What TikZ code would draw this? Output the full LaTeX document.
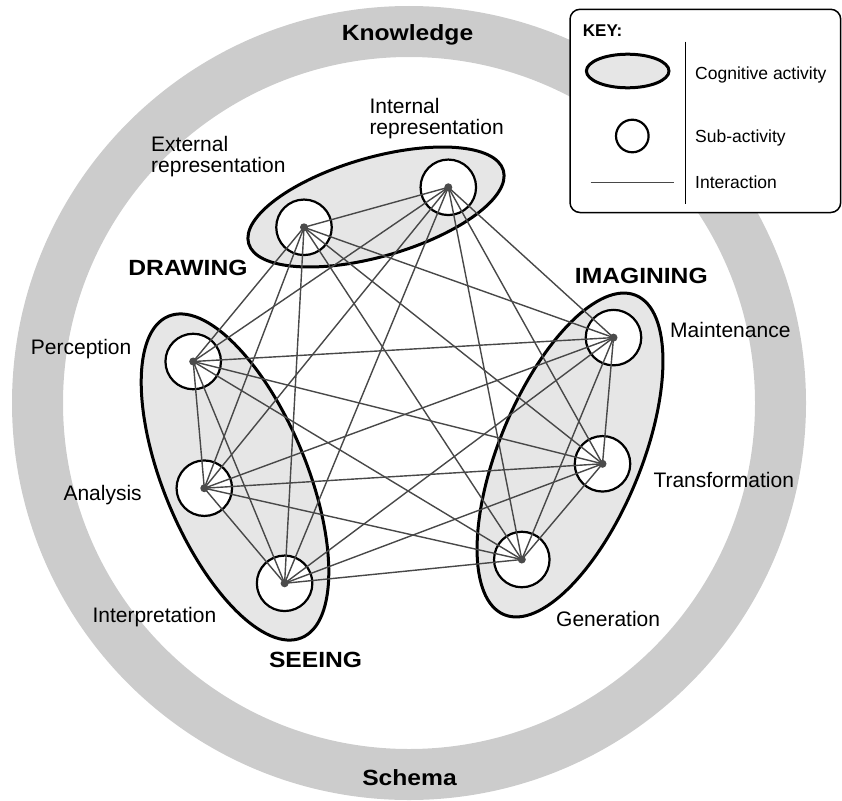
\documentclass[tikz,border=0pt]{standalone}
\usepackage{fontspec}
\setmainfont{Liberation Sans}
\newfontfamily\titlefont[FakeStretch=1.12]{Liberation Sans}
\usepackage{xcolor}
\definecolor{ringgray}{RGB}{204,204,204}
\definecolor{actgray}{RGB}{230,230,230}
\definecolor{linegray}{RGB}{72,72,72}
\definecolor{dotgray}{RGB}{75,75,75}

\begin{document}
\begin{tikzpicture}[x=1pt,y=1pt,yscale=-1,
    subact/.style={circle,draw,fill=white,line width=2.2pt,minimum size=55.5pt,inner sep=0pt},
    activity/.style={draw,fill=actgray,line width=3pt},
    interact/.style={draw=linegray,line width=1.4pt},
    lbl/.style={anchor=base west,inner sep=0pt,font=\fontsize{21}{21.5}\selectfont},
    lbltwo/.style={anchor=north west,inner sep=0pt,align=left,font=\fontsize{21}{21.5}\selectfont},
    ttl/.style={anchor=base,inner sep=0pt,font=\titlefont\bfseries\fontsize{22}{24}\selectfont},
    keytxt/.style={anchor=base west,inner sep=0pt,font=\fontsize{17.5}{20}\selectfont}]
            \useasboundingbox (0,0) rectangle (842,800);
            
            %Ring: knowledge / schema
            \fill[ringgray,even odd rule] (409,403) circle (397) (409,403) circle (346);
            \node[ttl] (know) at (407.5,40.7) {Knowledge};
            \node[ttl] (schema) at (409.5,785) {Schema};
            
            %Cognitive activities
            \draw[activity,rotate around={-16:(376,207)}] (376,207) ellipse (132.5 and 49.5);
            \draw[activity,rotate around={67.5:(235,477)}] (235,477) ellipse (174 and 71.5);
            \draw[activity,rotate around={-67.6:(570,455)}] (570,455) ellipse (172.7 and 71);
            
            %Sub-activities
            \node[subact] (ext) at (304,227.3) {};
            \node[subact] (int) at (448.3,187.3) {};
            \node[subact] (per) at (193.2,361.5) {};
            \node[subact] (ana) at (204.3,488.2) {};
            \node[subact] (itp) at (284.6,583.3) {};
            \node[subact] (mai) at (613.5,337.6) {};
            \node[subact] (tra) at (602.5,463.8) {};
            \node[subact] (gen) at (521.8,559.5) {};
            
            %Interactions
            \foreach \a [count=\i] in {ext,int,per,ana,itp,mai,tra,gen}
              \foreach \b [count=\j] in {ext,int,per,ana,itp,mai,tra,gen}
                {\ifnum\j>\i \draw[interact] (\a.center) -- (\b.center); \fi}
            \foreach \n in {ext,int,per,ana,itp,mai,tra,gen}
              \fill[dotgray] (\n.center) circle (4);
            
            % Text Node
            \node[lbltwo] (lext) at (151,135.6) {External\\representation};
            \node[lbltwo] (lint) at (369.3,97.6) {Internal\\representation};
            \node[lbl] (lper) at (30.7,354) {Perception};
            \node[lbl] (lana) at (63.3,500) {Analysis};
            \node[lbl] (litp) at (92.3,622.7) {Interpretation};
            \node[lbl] (lmai) at (670,337.3) {Maintenance};
            \node[lbl] (ltra) at (653.3,487.3) {Transformation};
            \node[lbl] (lgen) at (556,626.7) {Generation};
            \node[ttl] (draw) at (188,275) {DRAWING};
            \node[ttl] (imag) at (641.3,283.3) {IMAGINING};
            \node[ttl] (see) at (315.6,667.3) {SEEING};
            
            %Key
            \draw[fill=white,line width=1.5pt,rounded corners=10pt] (570,9.3) rectangle (840.7,212.5);
            \draw[line width=1pt] (685,41.7) -- (685,204);
            \node[anchor=base west,inner sep=0pt,font=\bfseries\fontsize{17}{20}\selectfont] (keyttl) at (582.7,36.7) {KEY:};
            \draw[activity] (627.7,71) ellipse (41.3 and 16.8);
            \node[subact,minimum size=32.6pt] (keysub) at (632.3,136) {};
            \coordinate (keyl) at (590.7,182.3);
            \coordinate (keyr) at (674,182.3);
            \draw[interact] (keyl) -- (keyr);
            \node[keytxt] (kact) at (695,79) {Cognitive activity};
            \node[keytxt] (ksub) at (695,142.7) {Sub-activity};
            \node[keytxt] (kint) at (695,188.3) {Interaction};
            
\end{tikzpicture}
\end{document}
